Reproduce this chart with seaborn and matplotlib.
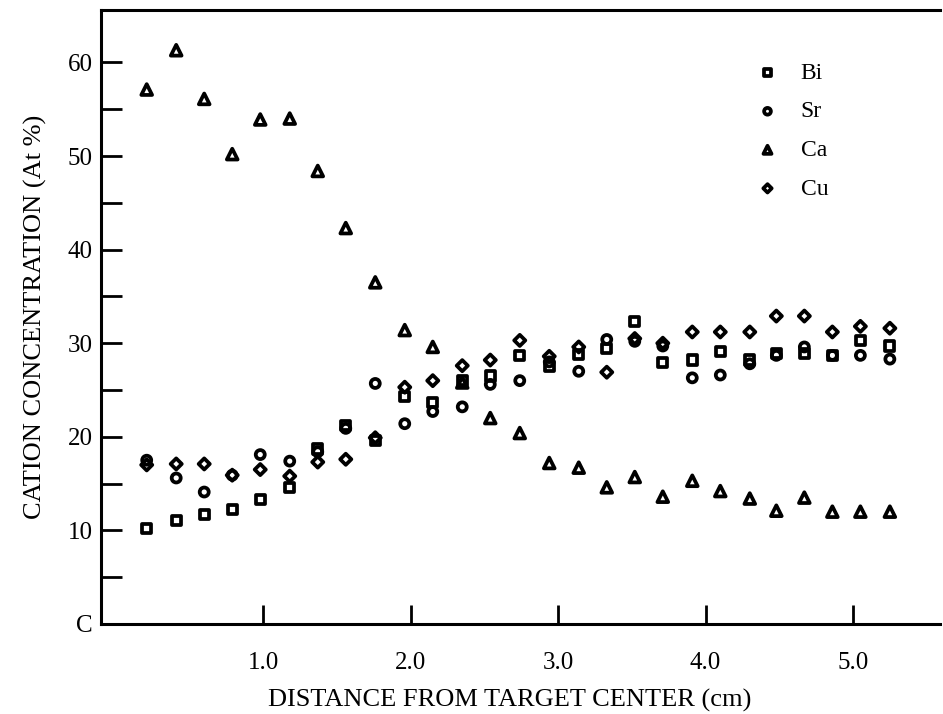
import pandas as pd
import matplotlib.pyplot as plt
import seaborn as sns
import numpy as np

# distance from target center (cm), one column per sample position
distance = [0.21, 0.41, 0.60, 0.79, 0.98, 1.18, 1.37, 1.56, 1.76, 1.96, 2.15, 2.35, 2.54, 2.74,
            2.94, 3.14, 3.33, 3.52, 3.71, 3.91, 4.10, 4.30, 4.48, 4.67, 4.86, 5.05, 5.25]

# cation concentration (At %)
bi = [10.2, 11.1, 11.7, 12.2, 13.3, 14.6, 18.7, 21.2, 19.6, 24.3, 23.7, 26.0, 26.5, 28.7,
      27.5, 28.8, 29.4, 32.3, 27.9, 28.2, 29.1, 28.2, 28.9, 28.9, 28.7, 30.3, 29.7]
sr = [17.5, 15.6, 14.1, 15.9, 18.1, 17.4, 18.4, 20.9, 25.7, 21.4, 22.7, 23.2, 25.6, 26.0,
      28.0, 27.0, 30.4, 30.2, 29.7, 26.3, 26.6, 27.8, 28.7, 29.6, 28.7, 28.7, 28.3]
ca = [57.1, 61.3, 56.1, 50.2, 53.9, 54.0, 48.4, 42.3, 36.5, 31.4, 29.6, 25.8, 22.0, 20.4,
      17.2, 16.7, 14.6, 15.7, 13.6, 15.3, 14.2, 13.4, 12.1, 13.5, 12.0, 12.0, 12.0]
cu = [17.0, 17.1, 17.1, 15.9, 16.5, 15.8, 17.3, 17.6, 19.9, 25.3, 26.0, 27.6, 28.2, 30.3,
      28.6, 29.6, 26.9, 30.5, 30.0, 31.2, 31.2, 31.2, 32.9, 32.9, 31.2, 31.8, 31.6]

elements = ['Bi', 'Sr', 'Ca', 'Cu']
markers = {'Bi': 's', 'Sr': 'o', 'Ca': '^', 'Cu': 'D'}
sizes = {'Bi': 44, 'Sr': 42, 'Ca': 60, 'Cu': 32}

df = pd.DataFrame({'distance': distance, 'Bi': bi, 'Sr': sr, 'Ca': ca, 'Cu': cu})
long_df = df.melt(id_vars='distance', var_name='element', value_name='conc')

sns.set_style('ticks', {'axes.edgecolor': 'black', 'text.color': 'black',
                        'xtick.color': 'black', 'ytick.color': 'black',
                        'axes.labelcolor': 'black'})
plt.rcParams['font.family'] = ['Liberation Serif', 'DejaVu Serif']

fig = plt.figure(figsize=(9.43, 7.14), dpi=100)
ax = fig.add_axes([101 / 943, 90 / 714, 839 / 943, 614 / 714])

for el in elements:
    sub = long_df[long_df['element'] == el]
    sns.scatterplot(data=sub, x='distance', y='conc', marker=markers[el], s=sizes[el],
                    facecolor='none', edgecolor='black', linewidth=2.7, label=el, ax=ax)

ax.set_xlim(-0.1, 5.59)
ax.set_ylim(0, 65.6)

ax.set_xticks([1, 2, 3, 4, 5])
ax.set_xticklabels(['1.0', '2.0', '3.0', '4.0', '5.0'])
ax.set_yticks(np.arange(0, 61, 5))
ax.set_yticklabels(['C' if v == 0 else (str(v) if v % 10 == 0 else '') for v in range(0, 61, 5)])

ax.tick_params(axis='x', direction='in', length=14, width=2, pad=20, labelsize=18)
ax.tick_params(axis='y', direction='in', length=15, width=2, pad=6, labelsize=18)

for side in ['left', 'bottom', 'top']:
    ax.spines[side].set_linewidth(2.2)
ax.spines['right'].set_visible(False)

ax.set_xlabel('DISTANCE FROM TARGET CENTER (cm)', fontsize=19)
ax.xaxis.set_label_coords(0.487, -0.105)
ax.set_ylabel('CATION CONCENTRATION (At %)', fontsize=19, labelpad=15)

ax.legend(loc='upper left', bbox_to_anchor=(0.755, 0.93), frameon=False, fontsize=17,
          markerscale=0.75, handletextpad=0.4, labelspacing=0.72, borderaxespad=0)

fig.savefig('out.png', dpi=100)
